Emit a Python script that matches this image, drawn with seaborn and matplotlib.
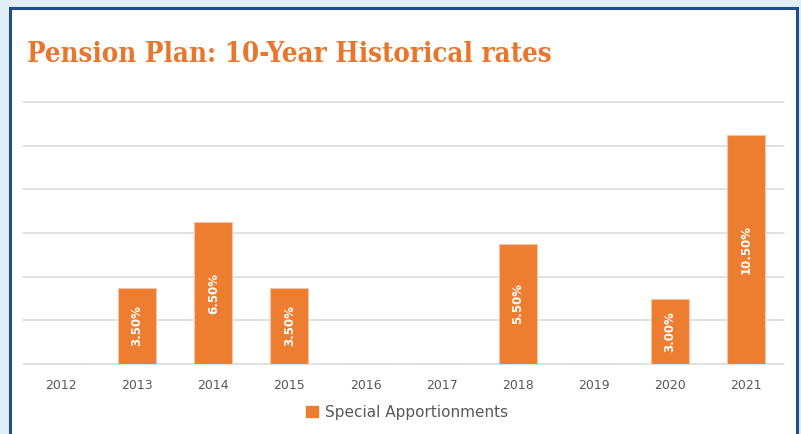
import matplotlib
matplotlib.use("Agg")
import matplotlib.pyplot as plt
import matplotlib.patches as mpatches
import seaborn as sns
import pandas as pd

years = ["2012", "2013", "2014", "2015", "2016", "2017", "2018", "2019", "2020", "2021"]
rates = [0.0, 3.5, 6.5, 3.5, 0.0, 0.0, 5.5, 0.0, 3.0, 10.5]
series_name = "Special Apportionments"
title = "Pension Plan: 10-Year Historical rates"

ORANGE = "#ED7D31"
df = pd.DataFrame({"year": years, "rate": rates})

sns.set_theme(style="white")
plt.rcParams["font.family"] = ["DejaVu Sans"]

W, H = 801, 434
fig = plt.figure(figsize=(W / 100, H / 100), dpi=100)
fig.patch.set_facecolor("#E1EEF8")
# white panel with dark blue border
panel = mpatches.Rectangle((10 / W, -0.05), (797 - 10) / W, 1.05 - 8 / H,
                           transform=fig.transFigure, facecolor="white",
                           edgecolor="#1F4E8C", linewidth=2.2, zorder=-5)
fig.patches.append(panel)

ax = fig.add_axes([23 / W, 1 - 364 / H, (784 - 23) / W, (364 - 102) / H])
ax.set_facecolor("none")
sns.barplot(data=df, x="year", y="rate", color=ORANGE, width=0.5, ax=ax,
            saturation=1, edgecolor="#F6C4A2", linewidth=0.8, zorder=3)
ax.set_ylim(0, 12)
ax.set_yticks(range(0, 13, 2))
ax.yaxis.grid(True, color="#D9D9D9", linewidth=1.1)
for gl in ax.get_ygridlines():
    gl.set_clip_on(False)
ax.set_axisbelow(True)
ax.tick_params(axis="y", left=False, labelleft=False)
ax.tick_params(axis="x", length=0, pad=11, labelsize=9, labelcolor="#595959")
for s in ax.spines.values():
    s.set_visible(False)
ax.set_xlabel("")
ax.set_ylabel("")

for i, v in enumerate(rates):
    if v > 0:
        ax.text(i, v / 2, f"{v:.2f}%", rotation=90, ha="center", va="center",
                color="white", fontsize=8.5, fontweight="bold", zorder=5)

fig.text(27 / W, 1 - 62 / H, title, fontsize=19.8, fontweight="bold",
         family="DejaVu Serif", stretch="condensed", color="#E8762C",
         ha="left", va="baseline")

handle = mpatches.Patch(color=ORANGE, label=series_name)
fig.legend(handles=[handle], loc="center", bbox_to_anchor=(407 / W, 1 - 412 / H),
           frameon=False, fontsize=11, labelcolor="#595959", handlelength=0.75,
           handleheight=0.75, handletextpad=0.45)

fig.savefig("out.png", dpi=100, facecolor=fig.get_facecolor())
